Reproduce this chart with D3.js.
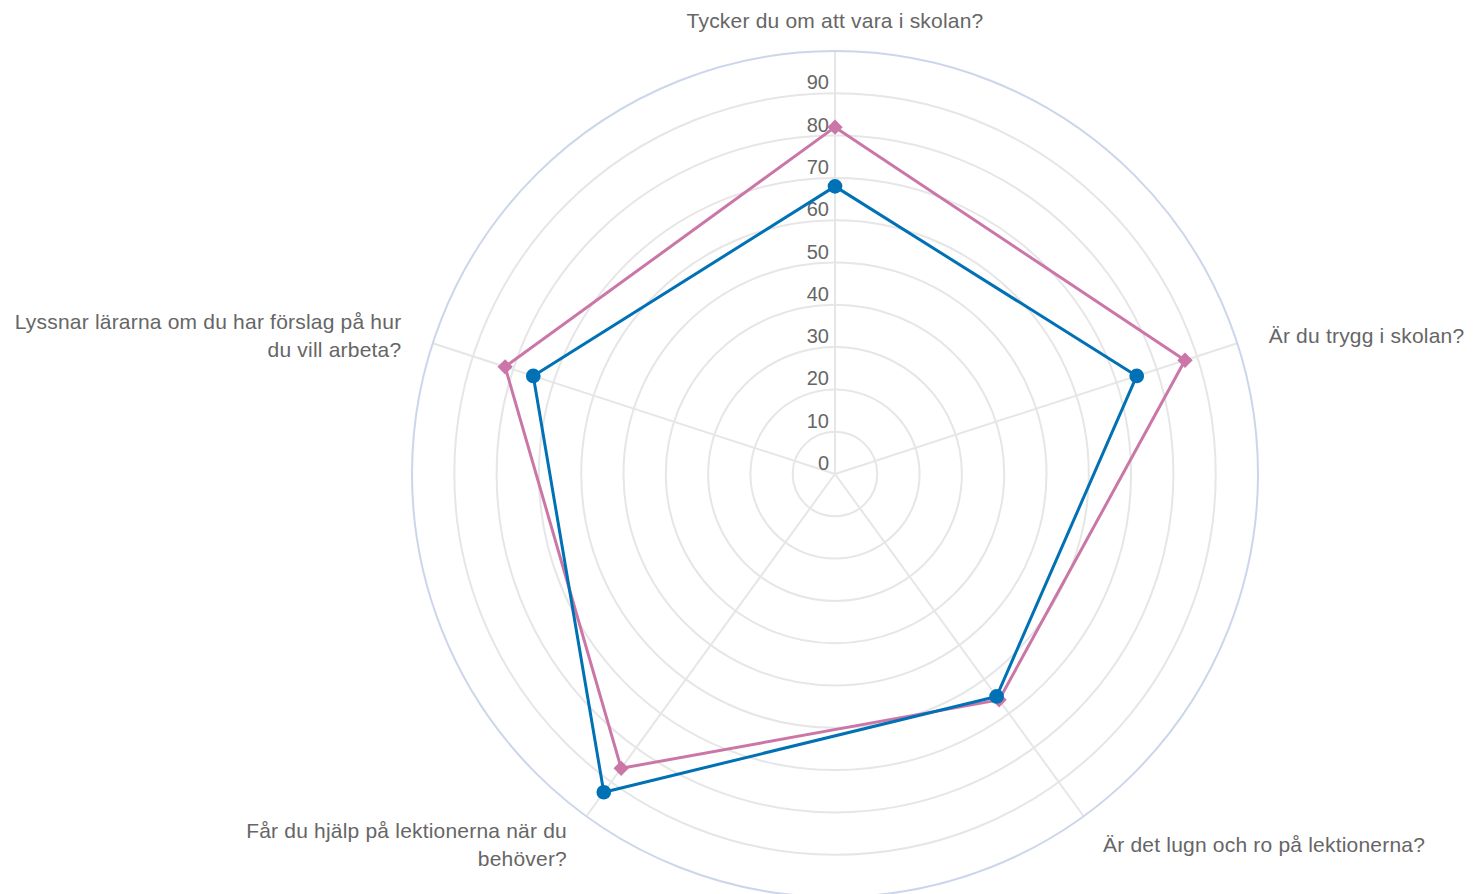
<!DOCTYPE html>
<html>
<head>
<meta charset="utf-8">
<script src="https://cdn.jsdelivr.net/npm/d3@7"></script>
<style>
  html, body { margin: 0; padding: 0; background: #fff; overflow: hidden; }
  svg { display: block; font-family: "Liberation Sans", Arial, sans-serif; }
</style>
</head>
<body>
<div id="chart"></div>
<script>
// categories, each split into its display lines
const categories = [
    ["Tycker du om att vara i skolan?"],
    ["Är du trygg i skolan?"],
    ["Är det lugn och ro på lektionerna?"],
    ["Får du hjälp på lektionerna när du", "behöver?"],
    ["Lyssnar lärarna om du har förslag på hur", "du vill arbeta?"]
];
const pinkValues = [82, 87, 66, 86, 82];
const blueValues = [68, 75, 65, 93, 75];
const tickValues = [0, 10, 20, 30, 40, 50, 60, 70, 80, 90];

const width = 1473, height = 894;
const cx = 835, cy = 474;
const R = 423;

const r = d3.scaleLinear().domain([0, 100]).range([0, R]);
const angle = d3.scaleLinear().domain([0, categories.length]).range([0, 2 * Math.PI]);

const svg = d3.select('#chart').append('svg')
    .attr('width', width)
    .attr('height', height);

const g = svg.append('g')
    .attr('transform', 'translate(' + cx + ',' + cy + ')');

// grid circles
g.selectAll('circle.grid')
    .data(tickValues.filter(d => d > 0))
    .join('circle')
    .attr('class', 'grid')
    .attr('r', d => r(d))
    .attr('fill', 'none')
    .attr('stroke', '#e6e6e6')
    .attr('stroke-width', 2);

// spokes
g.selectAll('line.spoke')
    .data(categories)
    .join('line')
    .attr('class', 'spoke')
    .attr('x1', 0).attr('y1', 0)
    .attr('x2', (d, i) => r(100) * Math.sin(angle(i)))
    .attr('y2', (d, i) => -r(100) * Math.cos(angle(i)))
    .attr('stroke', '#e6e6e6')
    .attr('stroke-width', 2);

// outer pane border
g.append('circle')
    .attr('r', r(100))
    .attr('fill', 'none')
    .attr('stroke', '#ccd6eb')
    .attr('stroke-width', 2);

// tick labels
g.selectAll('text.tick')
    .data(tickValues)
    .join('text')
    .attr('class', 'tick')
    .attr('x', -6)
    .attr('y', d => -r(d) - 4)
    .attr('text-anchor', 'end')
    .attr('fill', '#666666')
    .style('font-size', '20px')
    .text(d => d);

// category labels
const labelR = R + 33;
const lineH = 28;
categories.forEach((lines, i) => {
    const a = angle(i);
    const x = labelR * Math.sin(a);
    const y = -labelR * Math.cos(a);
    const s = Math.sin(a);
    const anchor = Math.abs(s) < 0.01 ? 'middle' : (s > 0 ? 'start' : 'end');
    const t = g.append('text')
        .attr('text-anchor', anchor)
        .attr('fill', '#666666')
        .style('font-size', '21px')
        .style('letter-spacing', '0.2px');
    const y0 = y - (lines.length - 1) * lineH / 2 + 9.5;
    lines.forEach((ln, j) => {
        t.append('tspan')
            .attr('x', x)
            .attr('y', y0 + j * lineH)
            .text(ln);
    });
});

const radial = d3.lineRadial()
    .angle((d, i) => angle(i))
    .radius(d => r(d))
    .curve(d3.curveLinearClosed);

function drawSeries(values, color, marker) {
    g.append('path')
        .datum(values)
        .attr('d', radial)
        .attr('fill', 'none')
        .attr('stroke', color)
        .attr('stroke-width', 3)
        .attr('stroke-linejoin', 'round');

    g.selectAll(null)
        .data(values)
        .join('path')
        .attr('transform', (d, i) => 'translate(' + (r(d) * Math.sin(angle(i))) + ',' + (-r(d) * Math.cos(angle(i))) + ')')
        .attr('d', d3.symbol().type(marker).size(marker === d3.symbolCircle ? 170 : 150))
        .attr('fill', color);
}

drawSeries(pinkValues, '#ca77a8', d3.symbolDiamond2);
drawSeries(blueValues, '#0071b4', d3.symbolCircle);
</script>
</body>
</html>
